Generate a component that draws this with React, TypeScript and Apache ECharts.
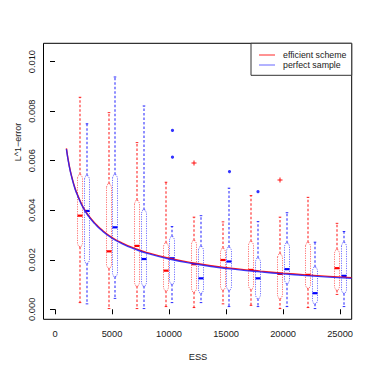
import React, { useEffect, useRef } from "react";
import * as echarts from "echarts";

// Box positions (ESS)
const redPos = [2200, 4700, 7200, 9700, 12200, 14700, 17200, 19700, 22200, 24700];
const bluePos = [2800, 5300, 7800, 10300, 12800, 15300, 17800, 20300, 22800, 25300];

// efficient scheme (red) box stats
const redMin = [0.00027, 0.00003, 0.00003, 0.00011, 0.00007, 0.00022, 0.00016, 0.00003, 0.00007, 0.0006];
const redQ1 = [0.00253, 0.00166, 0.00094, 0.00075, 0.0007, 0.00078, 0.00081, 0.00044, 0.00085, 0.00078];
const redMed = [0.00378, 0.00234, 0.00256, 0.00156, 0.00182, 0.00199, 0.00159, 0.00143, 0.00139, 0.00166];
const redQ3 = [0.00543, 0.00506, 0.00439, 0.00267, 0.00277, 0.00245, 0.00273, 0.00223, 0.00269, 0.0024];
const redMax = [0.00856, 0.00794, 0.00673, 0.00513, 0.00372, 0.00353, 0.00459, 0.00372, 0.00452, 0.00347];

// perfect sample (blue) box stats
const blueMin = [0.00022, 0.00044, 0.00003, 0.00027, 0.00027, 0.00011, 0.00011, 0.00011, 0.00003, 0.00011];
const blueQ1 = [0.00186, 0.00132, 0.00094, 0.00102, 0.00065, 0.00078, 0.00044, 0.00105, 0.00022, 0.00065];
const blueMed = [0.00397, 0.00331, 0.00203, 0.00206, 0.00125, 0.00193, 0.00125, 0.00162, 0.00065, 0.00135];
const blueQ3 = [0.00539, 0.00543, 0.00401, 0.00293, 0.00253, 0.0025, 0.00206, 0.00267, 0.0017, 0.00269];
const blueMax = [0.00749, 0.00938, 0.00821, 0.00334, 0.00378, 0.00489, 0.00354, 0.0039, 0.00271, 0.00314];

// outliers
const redOutliers = [[12200, 0.0059], [19700, 0.00522]];
const blueOutliers = [[10300, 0.00722], [10300, 0.00614], [15300, 0.00556], [17800, 0.00475]];

// fitted curves
const curveX = [1000, 1250, 1500, 1750, 2000, 2500, 3000, 3500, 4000, 5000, 6000, 7000, 8000, 10000, 12000, 14000, 16000, 18000, 20000, 22000, 24000, 26000];
const redCurve = [0.0065, 0.0058, 0.0053, 0.0049, 0.0046, 0.0041, 0.00375, 0.00348, 0.00325, 0.0029, 0.00265, 0.00246, 0.0023, 0.00206, 0.00188, 0.00174, 0.00163, 0.00154, 0.00146, 0.00139, 0.00133, 0.00128];
const blueCurve = [0.00647, 0.00577, 0.00527, 0.00487, 0.00457, 0.00407, 0.00372, 0.00345, 0.00322, 0.00287, 0.00262, 0.00243, 0.00227, 0.00203, 0.00185, 0.00171, 0.0016, 0.00151, 0.00143, 0.00136, 0.0013, 0.00125];

const xTicks = [0, 5000, 10000, 15000, 20000, 25000];
const yTicks = [0, 0.002, 0.004, 0.006, 0.008, 0.01];

const RED = "#ff0000";
const BLUE = "#0000ff";
const RED_W = "rgba(255,0,0,0.85)";
const BLUE_W = "rgba(0,0,255,0.8)";
const RED_B = "rgba(255,0,0,0.55)";
const BLUE_B = "rgba(0,0,255,0.55)";
const FONT = "Liberation Sans, Arial, sans-serif";

function boxRows(pos: number[], mn: number[], q1: number[], md: number[], q3: number[], mx: number[]) {
  return pos.map((p, i) => [p, mn[i], q1[i], md[i], q3[i], mx[i]]);
}

function makeRenderBox(color: string, wcol: string, bcol: string) {
  return (params: any, api: any) => {
    const x = api.value(0);
    const pMin = api.coord([x, api.value(1)]);
    const pQ1 = api.coord([x, api.value(2)]);
    const pMed = api.coord([x, api.value(3)]);
    const pQ3 = api.coord([x, api.value(4)]);
    const pMax = api.coord([x, api.value(5)]);
    const cx = Math.round(pMed[0]);
    const hw = 2.5;
    const d = Math.min(3, (pQ1[1] - pQ3[1]) / 4);
    return {
      type: "group",
      children: [
        {
          type: "line",
          shape: { x1: cx, y1: pQ3[1], x2: cx, y2: pMax[1] },
          style: { stroke: wcol, fill: null, lineWidth: 1.1, lineDash: [2.5, 2] },
        },
        {
          type: "line",
          shape: { x1: cx, y1: pQ1[1], x2: cx, y2: pMin[1] },
          style: { stroke: wcol, fill: null, lineWidth: 1.1, lineDash: [2.5, 2] },
        },
        {
          type: "line",
          shape: { x1: cx - 1.3, y1: pMax[1], x2: cx + 1.3, y2: pMax[1] },
          style: { stroke: wcol, fill: null, lineWidth: 1 },
        },
        {
          type: "line",
          shape: { x1: cx - 1.3, y1: pMin[1], x2: cx + 1.3, y2: pMin[1] },
          style: { stroke: wcol, fill: null, lineWidth: 1 },
        },
        {
          type: "polygon",
          shape: {
            points: [
              [cx - hw, pQ3[1] + d],
              [cx - hw / 2, pQ3[1]],
              [cx + hw / 2, pQ3[1]],
              [cx + hw, pQ3[1] + d],
              [cx + hw, pQ1[1] - d],
              [cx + hw / 2, pQ1[1]],
              [cx - hw / 2, pQ1[1]],
              [cx - hw, pQ1[1] - d],
            ],
          },
          style: { fill: null, stroke: bcol, lineWidth: 1, lineDash: [1.2, 1.2] },
        },
        {
          type: "rect",
          shape: { x: cx - 2.5, y: pMed[1] - 1.1, width: 5, height: 2.2 },
          style: { fill: color, stroke: null },
        },
      ],
    };
  };
}

function renderPlus(params: any, api: any) {
  const p = api.coord([api.value(0), api.value(1)]);
  const x = Math.round(p[0]);
  const y = Math.round(p[1]);
  return {
    type: "group",
    children: [
      { type: "line", shape: { x1: x - 2.5, y1: y, x2: x + 2.5, y2: y }, style: { stroke: RED_W, fill: null, lineWidth: 1.1 } },
      { type: "line", shape: { x1: x, y1: y - 2.5, x2: x, y2: y + 2.5 }, style: { stroke: RED_W, fill: null, lineWidth: 1.1 } },
    ],
  };
}

function renderDot(params: any, api: any) {
  const p = api.coord([api.value(0), api.value(1)]);
  return { type: "circle", shape: { cx: p[0], cy: p[1], r: 1.6 }, style: { fill: BLUE_W, stroke: null } };
}

export default function App() {
  const ref = useRef<HTMLDivElement>(null);
  useEffect(() => {
    if (!ref.current) return;
    const chart = echarts.init(ref.current, null, { renderer: "svg" });
    const option: any = {
      animation: false,
      backgroundColor: "#ffffff",
      grid: {
        left: 43.5,
        top: 43.3,
        right: 22.3,
        bottom: 54.7,
        show: true,
        borderColor: "#000",
        borderWidth: 1,
        backgroundColor: "transparent",
      },
      xAxis: {
        type: "value",
        min: -1009,
        max: 26017,
        splitLine: { show: false },
        axisLine: { show: false },
        axisTick: { show: true, inside: false, length: 5, customValues: xTicks, lineStyle: { color: "#000" } },
        axisLabel: {
          customValues: xTicks,
          margin: 10,
          fontSize: 9.3,
          color: "#1a1a1a",
          fontFamily: FONT,
          formatter: (v: number) => String(v),
        },
      },
      yAxis: {
        type: "value",
        min: -0.000404,
        max: 0.01074,
        splitLine: { show: false },
        axisLine: { show: false },
        axisTick: { show: true, inside: false, length: 5, customValues: yTicks, lineStyle: { color: "#000" } },
        axisLabel: {
          customValues: yTicks,
          rotate: 90,
          margin: 7,
          fontSize: 9.3,
          color: "#1a1a1a",
          fontFamily: FONT,
          formatter: (v: number) => v.toFixed(3),
        },
      },
      series: [
        {
          type: "custom",
          renderItem: makeRenderBox(RED, RED_W, RED_B),
          data: boxRows(redPos, redMin, redQ1, redMed, redQ3, redMax),
          encode: { x: 0, y: [1, 2, 3, 4, 5] },
          z: 2,
        },
        {
          type: "custom",
          renderItem: makeRenderBox(BLUE, BLUE_W, BLUE_B),
          data: boxRows(bluePos, blueMin, blueQ1, blueMed, blueQ3, blueMax),
          encode: { x: 0, y: [1, 2, 3, 4, 5] },
          z: 2,
        },
        { type: "custom", renderItem: renderPlus, data: redOutliers, encode: { x: 0, y: 1 }, z: 2 },
        { type: "custom", renderItem: renderDot, data: blueOutliers, encode: { x: 0, y: 1 }, z: 2 },
        {
          type: "line",
          data: curveX.map((x, i) => [x, redCurve[i]]),
          smooth: true,
          showSymbol: false,
          lineStyle: { color: "rgba(255,0,0,0.9)", width: 1.4 },
          z: 3,
        },
        {
          type: "line",
          data: curveX.map((x, i) => [x, blueCurve[i]]),
          smooth: true,
          showSymbol: false,
          lineStyle: { color: "rgba(30,30,255,0.85)", width: 1.4 },
          z: 4,
        },
      ],
      graphic: [
        {
          type: "text",
          x: 18,
          y: 142,
          rotation: Math.PI / 2,
          style: { text: "L^1\u2212error", fill: "#1a1a1a", font: `9px ${FONT}`, align: "center", verticalAlign: "middle" },
        },
        {
          type: "text",
          x: 198,
          y: 357,
          style: { text: "ESS", fill: "#1a1a1a", font: `9.3px ${FONT}`, align: "center", verticalAlign: "middle" },
        },
        {
          type: "rect",
          shape: { x: 251, y: 43.3, width: 100.7, height: 32 },
          style: { fill: "#fff", stroke: "#333", lineWidth: 1 },
          z: 10,
        },
        { type: "line", shape: { x1: 259, y1: 55, x2: 275, y2: 55 }, style: { stroke: RED_W, lineWidth: 1 }, z: 11 },
        { type: "line", shape: { x1: 259, y1: 65, x2: 275, y2: 65 }, style: { stroke: "rgba(0,0,255,0.6)", lineWidth: 1 }, z: 11 },
        {
          type: "text",
          x: 283,
          y: 55,
          style: { text: "efficient scheme", fill: "#1a1a1a", font: `8.8px ${FONT}`, verticalAlign: "middle" },
          z: 11,
        },
        {
          type: "text",
          x: 283,
          y: 65,
          style: { text: "perfect sample", fill: "#1a1a1a", font: `8.8px ${FONT}`, verticalAlign: "middle" },
          z: 11,
        },
      ],
    };
    chart.setOption(option);
    return () => chart.dispose();
  }, []);
  return <div ref={ref} style={{ width: 374, height: 374, position: "absolute", left: 0, top: 0 }} />;
}
